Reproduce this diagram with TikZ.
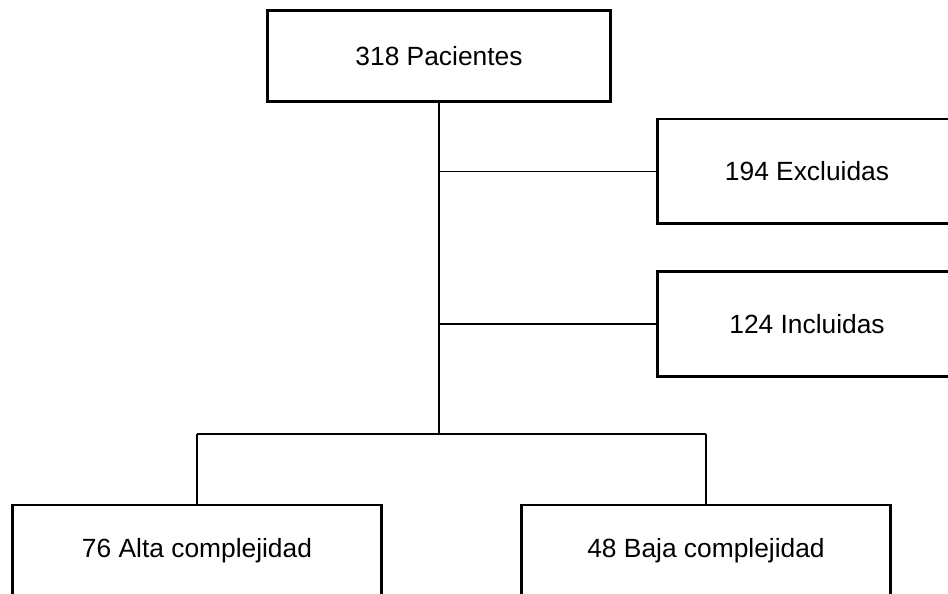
\documentclass[tikz,border=0pt]{standalone}
\usepackage{fontspec}
\setmainfont{Liberation Sans}
\usetikzlibrary{positioning}

\begin{document}
\begin{tikzpicture}[
        x=0.02cm, y=-0.02cm,
        every node/.style={font=\fontsize{15}{18}\selectfont},
        box/.style={draw, line width=1.7pt, fill=white, align=center},
        topbox/.style={box, minimum width=6.86cm, minimum height=1.82cm},
        sidebox/.style={box, minimum width=6cm, minimum height=2.1cm},
        groupbox/.style={box, minimum width=7.4cm, minimum height=1.84cm},
        trunk/.style={line width=1.7pt},
        link/.style={line width=1pt}
    ]
    \useasboundingbox (0,0) rectangle (948,594);
    \clip (0,0) rectangle (948,594);

    % Nodes
    \node[topbox] (pacientes) at (439,56) {318 Pacientes};
    \node[sidebox] (excluidas) at (807,171.5) {194 Excluidas};
    \node[sidebox] (incluidas) at (807,324) {124 Incluidas};
    \node[groupbox] (alta) at (197,551) {76 Alta complejidad};
    \node[groupbox] (baja) at (706,551) {48 Baja complejidad};
    \coordinate (split) at (pacientes.south |- 0,434);

    % Lines
    \draw[trunk] (pacientes.south) -- (split);
    \draw[link] (pacientes.south |- excluidas.west) -- (excluidas.west);
    \draw[link] (pacientes.south |- incluidas.west) -- (incluidas.west);
    \draw[link] (split -| alta.north) -- (split -| baja.north);
    \draw[link] (split -| alta.north) -- (alta.north);
    \draw[link] (split -| baja.north) -- (baja.north);

\end{tikzpicture}
\end{document}
